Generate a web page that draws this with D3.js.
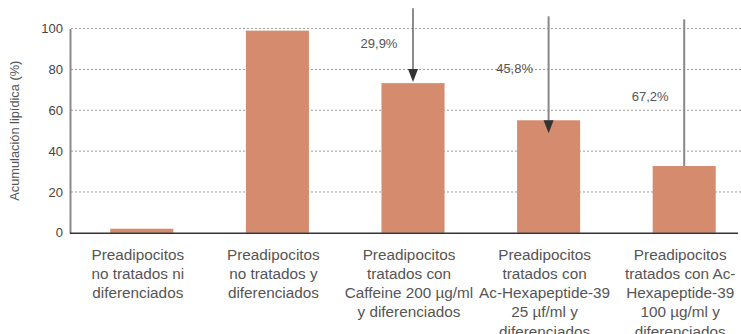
<!DOCTYPE html>
<html><head><meta charset="utf-8">
<script src="https://cdn.jsdelivr.net/npm/d3@7"></script>
<style>html,body{margin:0;padding:0;background:#fff;overflow:hidden}</style>
</head><body><svg id="c" width="741" height="334"></svg>
<script>
const categories = [
  ["Preadipocitos","no tratados ni","diferenciados"],
  ["Preadipocitos","no tratados y","diferenciados"],
  ["Preadipocitos","tratados con","Caffeine 200 µg/ml","y diferenciados"],
  ["Preadipocitos","tratados con","Ac-Hexapeptide-39","25 µf/ml y","diferenciados"],
  ["Preadipocitos","tratados con Ac-","Hexapeptide-39","100 µg/ml y","diferenciados"]
];
const values = [2, 99, 73.3, 55.1, 32.7];
const reductionLabels = [null, null, "29,9%", "45,8%", "67,2%"];
const arrowStart = [null, null, 110, 106, 104.5];
const labelLevel = [null, null, 92.5, 80.5, 67];
const yTicks = [0, 20, 40, 60, 80, 100];
const yTitle = "Acumulación lipídica (%)";

const svg = d3.select("#c");
const font = "'Liberation Sans', Arial, Helvetica, sans-serif";
const textColor = "#555";
const x = d3.scaleBand().domain(d3.range(categories.length)).range([74, 752]).paddingInner(0.535).paddingOuter(0.2675);
const y = d3.scaleLinear().domain([0, 100]).range([232.8, 28.6]);

// gridlines
svg.append("g").selectAll("line").data(yTicks.filter(d => d > 0)).join("line")
  .attr("x1", 71).attr("x2", 741).attr("y1", d => y(d)).attr("y2", d => y(d))
  .attr("stroke", "#9a9a9a").attr("stroke-width", 1).attr("stroke-dasharray", "2,2");

// bars
svg.append("g").selectAll("rect").data(values).join("rect")
  .attr("x", (d, i) => x(i)).attr("width", x.bandwidth())
  .attr("y", d => y(d)).attr("height", d => y(0) - y(d))
  .attr("fill", "#d58b6e");

// y axis
const yAxis = d3.axisLeft(y).tickValues(yTicks).tickSize(0).tickPadding(7);
const gy = svg.append("g").attr("transform", "translate(70,0)").call(yAxis);
gy.select(".domain").attr("stroke", "#8a8a8a").attr("stroke-width", 2);
gy.selectAll("text").attr("font-family", font).attr("font-size", 13).attr("fill", "#444");

// baseline
svg.append("line").attr("x1", 70).attr("x2", 738).attr("y1", y(0) + 0.5).attr("y2", y(0) + 0.5)
  .attr("stroke", "#333").attr("stroke-width", 1.6);

// y title
svg.append("text").attr("transform", `translate(19,${(y(0) + y(100)) / 2}) rotate(-90)`)
  .attr("text-anchor", "middle").attr("font-family", font).attr("font-size", 12.8)
  .attr("fill", textColor).text(yTitle);

// category labels
const gl = svg.append("g");
categories.forEach((lines, i) => {
  const t = gl.append("text").attr("text-anchor", "middle").attr("font-family", font)
    .attr("font-size", 15.3).attr("fill", textColor);
  lines.forEach((ln, k) => {
    t.append("tspan").attr("x", x(i) + x.bandwidth() / 2 - 4).attr("y", 259.5 + k * 19.3).text(ln);
  });
});

// arrows & reduction labels
const ga = svg.append("g");
values.forEach((v, i) => {
  if (!reductionLabels[i]) return;
  const cx = x(i) + x.bandwidth() / 2;
  const tipY = i === 3 ? y(v) + 13 : y(v) - 1;
  const hasHead = i !== 4;
  const lineEnd = hasHead ? tipY - 12 : y(v);
  ga.append("line").attr("x1", cx).attr("x2", cx).attr("y1", y(arrowStart[i])).attr("y2", lineEnd)
    .attr("stroke", i === 2 ? "#666" : "#888").attr("stroke-width", i === 2 ? 1.5 : 2);
  if (hasHead) {
    ga.append("path").attr("d", `M${cx - 5},${tipY - 13} L${cx + 5},${tipY - 13} L${cx},${tipY} Z`)
      .attr("fill", "#333");
  }
  ga.append("text").attr("x", cx - 34).attr("y", y(labelLevel[i])).attr("dy", "0.35em")
    .attr("text-anchor", "middle").attr("font-family", font).attr("font-size", 13)
    .attr("fill", textColor).text(reductionLabels[i]);
});
</script></body></html>
